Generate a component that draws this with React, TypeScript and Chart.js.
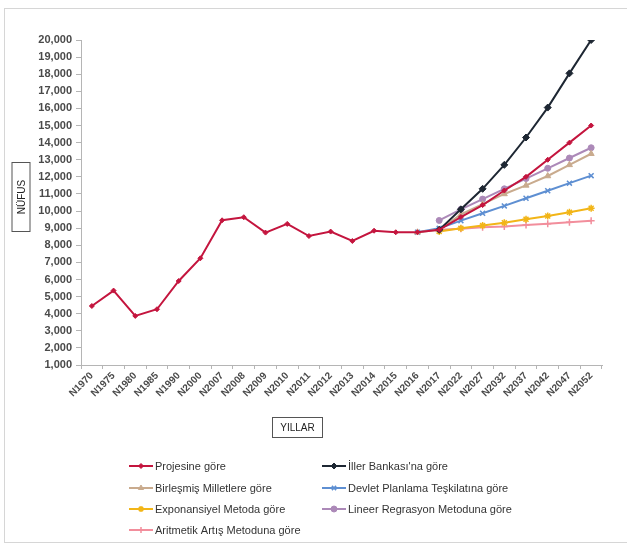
import React, { useEffect, useRef } from "react";
import { Chart, registerables } from "chart.js";
import { drawPoint } from "chart.js/helpers";

Chart.register(...registerables);

// Years on the horizontal axis
const years = [
  "N1970", "N1975", "N1980", "N1985", "N1990", "N2000", "N2007", "N2008",
  "N2009", "N2010", "N2011", "N2012", "N2013", "N2014", "N2015", "N2016",
  "N2017", "N2022", "N2027", "N2032", "N2037", "N2042", "N2047", "N2052",
];

// Population by method
const projesine = [
  4450, 5350, 3870, 4260, 5910, 7240, 9460, 9640, 8740, 9250, 8540, 8800,
  8250, 8850, 8760, 8760, 8900, 9650, 10350, 11200, 12000, 13000, 14000, 15000,
];
const illerBankasi = [
  null, null, null, null, null, null, null, null, null, null, null, null,
  null, null, null, null, 8900, 10100, 11300, 12700, 14300, 16050, 18050, 20000,
];
const birlesmis = [
  null, null, null, null, null, null, null, null, null, null, null, null,
  null, null, null, 8760, 8900, 9800, 10400, 11000, 11500, 12050, 12700, 13350,
];
const devletPlanlama = [
  null, null, null, null, null, null, null, null, null, null, null, null,
  null, null, null, 8760, 8990, 9440, 9870, 10300, 10750, 11190, 11630, 12070,
];
const exponansiyel = [
  null, null, null, null, null, null, null, null, null, null, null, null,
  null, null, null, null, 8800, 8990, 9150, 9320, 9520, 9710, 9930, 10160,
];
const lineer = [
  null, null, null, null, null, null, null, null, null, null, null, null,
  null, null, null, null, 9450, 10100, 10700, 11300, 11900, 12500, 13100, 13700,
];
const aritmetik = [
  null, null, null, null, null, null, null, null, null, null, null, null,
  null, null, null, null, 8900, 8970, 9050, 9100, 9180, 9260, 9340, 9440,
];

const yMin = 1000;
const yMax = 20000;
const yStep = 1000;

const FONT = "'Liberation Sans', Arial, sans-serif";

// Legend slots: [column, row]
const legendSlots: [number, number][] = [
  [0, 0], [1, 0], [0, 1], [1, 1], [0, 2], [1, 2], [0, 3],
];

function drawBoxedTitle(
  ctx: CanvasRenderingContext2D,
  text: string,
  cx: number,
  cy: number,
  w: number,
  h: number,
  rotate: number
) {
  ctx.save();
  ctx.translate(cx, cy);
  ctx.rotate(rotate);
  ctx.fillStyle = "#ffffff";
  ctx.fillRect(-w / 2, -h / 2, w, h);
  ctx.strokeStyle = "#555555";
  ctx.lineWidth = 1;
  ctx.strokeRect(-w / 2 + 0.5, -h / 2 + 0.5, w - 1, h - 1);
  ctx.fillStyle = "#222222";
  ctx.font = `10px ${FONT}`;
  ctx.textAlign = "center";
  ctx.textBaseline = "middle";
  ctx.fillText(text, 0, 1);
  ctx.restore();
}

const decorations = {
  id: "decorations",
  afterDraw(chart: any) {
    const ctx: CanvasRenderingContext2D = chart.ctx;
    // Axis titles in framed boxes
    drawBoxedTitle(ctx, "NÜFUS", 16, 188, 70, 19, -Math.PI / 2);
    drawBoxedTitle(ctx, "YILLAR", 292.5, 418.5, 51, 21, 0);

    // Two-column legend
    const colX = [124, 317];
    const rowY = [457, 479, 500, 521];
    chart.data.datasets.forEach((ds: any, i: number) => {
      const [col, row] = legendSlots[i];
      const x0 = colX[col];
      const y = rowY[row];
      ctx.save();
      ctx.strokeStyle = ds.borderColor;
      ctx.lineWidth = 2;
      ctx.beginPath();
      ctx.moveTo(x0, y);
      ctx.lineTo(x0 + 24, y);
      ctx.stroke();
      ctx.fillStyle = ds.pointBackgroundColor;
      ctx.strokeStyle = ds.pointBorderColor;
      ctx.lineWidth = ds.pointBorderWidth;
      drawPoint(ctx, {
        pointStyle: ds.pointStyle,
        radius: Math.min(ds.pointRadius, 3),
        rotation: 0,
        borderWidth: ds.pointBorderWidth,
      } as any, x0 + 12, y);
      ctx.fillStyle = "#333333";
      ctx.font = `11px ${FONT}`;
      ctx.textAlign = "left";
      ctx.textBaseline = "middle";
      ctx.fillText(ds.label, x0 + 26, y + 1);
      ctx.restore();
    });
  },
};

function series(
  label: string,
  data: (number | null)[],
  color: string,
  pointStyle: string,
  radius: number,
  pointBorderWidth = 1
) {
  return {
    label,
    data,
    borderColor: color,
    backgroundColor: color,
    pointBackgroundColor: color,
    pointBorderColor: color,
    pointBorderWidth,
    pointStyle,
    pointRadius: radius,
    pointHoverRadius: radius,
    borderWidth: 2,
    tension: 0,
    spanGaps: false,
  };
}

export default function App() {
  const canvasRef = useRef<HTMLCanvasElement | null>(null);

  useEffect(() => {
    if (!canvasRef.current) return;
    const chart = new Chart(canvasRef.current, {
      type: "line",
      data: {
        labels: years,
        datasets: [
          series("Projesine göre", projesine, "#C4153E", "rectRot", 2.5),
          series("İller Bankası'na göre", illerBankasi, "#1E2733", "rectRot", 3.5),
          series("Birleşmiş Milletlere göre", birlesmis, "#C9AB8E", "triangle", 3.5),
          series("Devlet Planlama Teşkilatına göre", devletPlanlama, "#5E8FD2", "crossRot", 3.5, 1.5),
          series("Exponansiyel Metoda göre", exponansiyel, "#F2B517", "star", 3.5, 1.5),
          series("Lineer Regrasyon Metoduna göre", lineer, "#AC89B8", "circle", 3),
          series("Aritmetik Artış Metoduna göre", aritmetik, "#F28E9C", "cross", 3.5, 1.5),
        ] as any,
      },
      options: {
        animation: false,
        responsive: false,
        layout: { padding: { top: 31, right: 25, left: 0, bottom: 0 } },
        plugins: {
          legend: { display: false },
          tooltip: { enabled: false },
        },
        scales: {
          x: {
            type: "category",
            offset: true,
            grid: {
              offset: true,
              drawOnChartArea: false,
              drawTicks: true,
              tickLength: 4,
              color: "#b5b5b5",
            },
            border: { color: "#b5b5b5" },
            ticks: {
              autoSkip: false,
              minRotation: 45,
              maxRotation: 45,
              padding: 1,
              color: "#4a4a4a",
              font: { family: FONT, size: 10, weight: "bold" },
            },
            afterFit: (scale: any) => {
              scale.height = 177;
            },
          },
          y: {
            min: yMin,
            max: yMax,
            grid: {
              drawOnChartArea: false,
              drawTicks: true,
              tickLength: 5,
              color: "#b5b5b5",
            },
            border: { color: "#b5b5b5" },
            ticks: {
              stepSize: yStep,
              padding: 4,
              color: "#4a4a4a",
              font: { family: FONT, size: 11, weight: "bold" },
            },
            afterFit: (scale: any) => {
              scale.width = 76;
            },
          },
        },
      } as any,
      plugins: [decorations],
    });
    return () => chart.destroy();
  }, []);

  return (
    <div
      style={{
        position: "fixed",
        left: 4,
        top: 8,
        width: 623,
        height: 535,
        boxSizing: "border-box",
        borderLeft: "1px solid #d6d6d6",
        borderTop: "1px solid #d6d6d6",
        borderBottom: "1px solid #d6d6d6",
        background: "#ffffff",
      }}
    >
      <canvas ref={canvasRef} width={622} height={533} style={{ display: "block" }} />
    </div>
  );
}
